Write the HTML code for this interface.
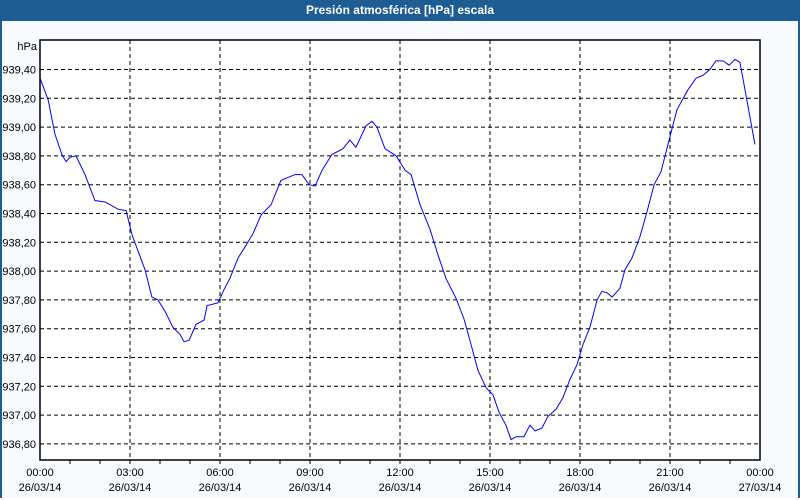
<!DOCTYPE html>
<html><head><meta charset="utf-8">
<style>
html,body{margin:0;padding:0;width:800px;height:500px;overflow:hidden;background:#fff;font-family:"Liberation Sans","DejaVu Sans",sans-serif}
#frame{position:absolute;left:0;top:0;width:796px;height:498px;border:2px solid #1e5c94;border-top:none;border-bottom:none;background:#f7fbff}
#title{position:absolute;left:0;top:0;width:800px;height:21px;background:#1e5c94;color:#fff;font-weight:bold;font-size:12px;text-align:center;line-height:21px}
svg{position:absolute;left:0;top:0}
</style></head><body>
<div id="frame"></div>
<div id="title">Presión atmosférica [hPa] escala</div>
<svg id="chart" width="800" height="500"></svg>
<script>
const hours=[0,.27,.5,.73,.87,1,1.2,1.5,1.83,2.17,2.6,2.87,3.07,3.5,3.73,3.93,4.17,4.43,4.67,4.8,4.97,5.2,5.47,5.57,5.93,6.13,6.33,6.6,6.87,7.1,7.37,7.7,8.03,8.5,8.73,8.97,9.17,9.4,9.73,10.1,10.33,10.53,10.87,11.07,11.23,11.5,11.87,12.17,12.37,12.67,13,13.27,13.53,13.87,14.13,14.33,14.6,14.87,15.1,15.3,15.53,15.7,15.87,16.13,16.33,16.5,16.73,16.93,17.2,17.43,17.67,17.9,18.1,18.33,18.57,18.73,18.9,19.07,19.33,19.5,19.73,20,20.23,20.47,20.7,20.97,21.23,21.6,21.87,22.1,22.33,22.53,22.77,22.97,23.17,23.33,23.5,23.83];
const pressure=[939.34,939.19,938.95,938.81,938.76,938.79,938.80,938.67,938.49,938.48,938.43,938.42,938.25,938.01,937.82,937.80,937.72,937.61,937.56,937.51,937.52,937.63,937.66,937.76,937.78,937.87,937.95,938.09,938.18,938.26,938.39,938.46,938.63,938.67,938.67,938.60,938.59,938.70,938.81,938.85,938.91,938.86,939.01,939.04,939.00,938.85,938.80,938.70,938.67,938.46,938.29,938.11,937.95,937.81,937.67,937.52,937.31,937.19,937.14,937.02,936.93,936.83,936.85,936.85,936.93,936.89,936.91,936.99,937.04,937.12,937.25,937.35,937.49,937.61,937.80,937.86,937.85,937.82,937.88,938.01,938.09,938.24,938.41,938.60,938.69,938.91,939.12,939.26,939.34,939.36,939.40,939.46,939.46,939.43,939.47,939.45,939.26,938.88];
const yTicks=[936.8,937.0,937.2,937.4,937.6,937.8,938.0,938.2,938.4,938.6,938.8,939.0,939.2,939.4];
const xTickHours=[0,3,6,9,12,15,18,21,24];
const xTickTimes=["00:00","03:00","06:00","09:00","12:00","15:00","18:00","21:00","00:00"];
const xTickDates=["26/03/14","26/03/14","26/03/14","26/03/14","26/03/14","26/03/14","26/03/14","26/03/14","27/03/14"];
const L=40,R=760,T=40,B=460;
const x=h=>L+(h/24)*(R-L);
const y=v=>69.5+(939.4-v)*144;
const svg=document.getElementById('chart');
const NS='http://www.w3.org/2000/svg';
function mk(tag,attrs){const e=document.createElementNS(NS,tag);for(const k in attrs)e.setAttribute(k,attrs[k]);svg.appendChild(e);return e;}
let bg=mk('rect',{x:L,y:T,width:R-L,height:B-T,fill:'#fff'});


yTicks.forEach(v=>{
  const g=mk('line',{x1:L,x2:R,y1:y(v),y2:y(v),stroke:'#000','stroke-dasharray':'4,3','stroke-width':1});
  
  
  const t=mk('text',{x:L-4,y:y(v)+4,'text-anchor':'end','font-size':11,fill:'#000'});
  t.textContent=v.toFixed(2).replace('.',',');
  
  
});
for(let h=1;h<24;h++){
  const tk=mk('line',{x1:x(h),x2:x(h),y1:B,y2:B+4,stroke:'#000'});
  
  
}
xTickHours.forEach((h,i)=>{
  if(h>0&&h<24){
    const g=mk('line',{x1:x(h),x2:x(h),y1:T,y2:B+4,stroke:'#000','stroke-dasharray':'4,3'});
    
    
  }
  const t1=mk('text',{x:x(h),y:476,'text-anchor':'middle','font-size':11,fill:'#000'});
  t1.textContent=xTickTimes[i];
  
  
  const t2=mk('text',{x:x(h),y:491,'text-anchor':'middle','font-size':11,fill:'#000'});
  t2.textContent=xTickDates[i];
  
  
});
const line=mk('polyline',{points:hours.map((h,i)=>x(h).toFixed(1)+','+y(pressure[i]).toFixed(1)).join(' '),fill:'none',stroke:'#0000ff','stroke-width':1});


const fr=mk('rect',{x:L,y:T,width:R-L,height:B-T,fill:'none',stroke:'#000','stroke-width':1.5});


const u=mk('text',{x:L-3,y:50,'text-anchor':'end','font-size':11,fill:'#000'});
u.textContent='hPa';


</script>
</body></html>
